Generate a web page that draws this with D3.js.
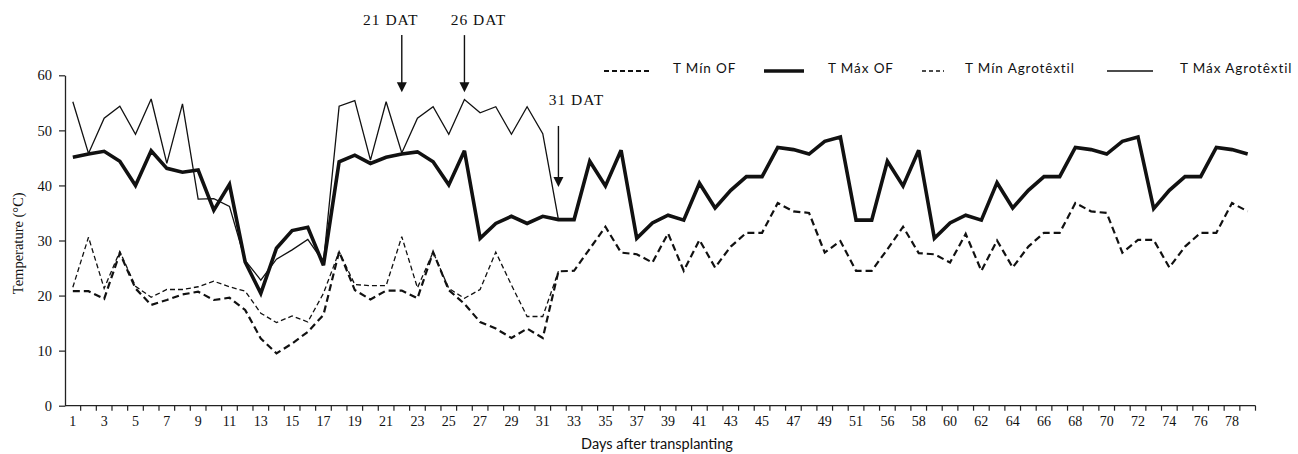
<!DOCTYPE html>
<html>
<head>
<meta charset="utf-8">
<script src="https://cdn.jsdelivr.net/npm/d3@7"></script>
<style>
  html, body { margin: 0; padding: 0; background: #fff; }
  svg { display: block; }
</style>
</head>
<body>
<svg id="chart" width="1298" height="454"></svg>
<script>
// Days after transplanting (category axis; days 52-54 were not recorded)
const days = [
  1,2,3,4,5,6,7,8,9,10,11,12,13,14,15,16,17,18,19,20,21,22,23,24,25,26,27,28,29,30,
  31,32,33,34,35,36,37,38,39,40,41,42,43,44,45,46,47,48,49,50,51,
  55,56,57,58,59,60,61,62,63,64,65,66,67,68,69,70,71,72,73,74,75,76,77,78,79
].map(String);

// Open field minimum and maximum temperature (°C)
const tMinOF = [
  20.8,20.8,19.4,27.7,21.3,18.3,19.2,20.2,20.7,19.2,19.6,17.4,12.2,9.5,11.3,13.4,16.5,28.0,21.0,19.3,
  20.9,20.9,19.5,27.9,21.0,18.5,15.2,14.0,12.3,14.0,12.3,24.4,24.5,28.5,32.5,27.8,27.5,26.0,31.3,24.5,
  30.1,25.1,28.9,31.4,31.4,36.8,35.3,35.0,27.8,29.9,24.5,24.5,28.4,32.5,27.7,27.5,26.0,31.2,24.5,30.0,
  25.1,28.9,31.4,31.4,36.8,35.3,35.0,27.8,30.1,30.1,25.1,28.9,31.4,31.4,36.8,35.3
];
const tMaxOF = [
  45.1,45.7,46.2,44.4,40.0,46.3,43.1,42.4,42.8,35.5,40.2,26.1,20.4,28.6,31.8,32.4,25.5,44.3,45.5,44.0,
  45.1,45.7,46.1,44.3,40.1,46.3,30.4,33.1,34.4,33.1,34.4,33.8,33.8,44.4,39.9,46.4,30.4,33.2,34.6,33.7,
  40.4,35.9,39.1,41.6,41.6,46.9,46.5,45.7,48.0,48.8,33.7,33.7,44.4,39.9,46.4,30.4,33.2,34.6,33.7,40.5,
  35.9,39.1,41.6,41.6,46.9,46.5,45.7,48.0,48.8,35.8,39.1,41.6,41.6,46.9,46.5,45.7
];

// Under the agrotextile cover (until it was removed)
const tMinAgro = [
  21.5,30.6,21.3,28.0,21.7,19.7,21.1,21.1,21.6,22.6,21.6,20.8,16.8,15.1,16.3,15.2,20.4,28.0,22.0,21.8,
  21.8,30.7,21.4,27.9,21.3,19.5,21.1,27.9,21.9,16.2,16.2,24.4
];
const tMaxAgro = [
  55.2,45.8,52.2,54.4,49.3,55.7,44.0,54.8,37.5,37.6,36.2,26.4,22.8,26.6,28.3,30.2,26.1,54.4,55.4,44.6,
  55.2,45.9,52.2,54.3,49.3,55.6,53.2,54.3,49.3,54.3,49.4,33.8
];

const yTicks = [0, 10, 20, 30, 40, 50, 60];

// Arrow annotations: text, category the arrow points at, arrow top and tip (°C)
const notes = [
  { text: "21 DAT", day: "22", from: 67.3, to: 56.9 },
  { text: "26 DAT", day: "26", from: 67.3, to: 56.9 },
  { text: "31 DAT", day: "32", from: 50.8, to: 39.7 }
];

const series = [
  { name: "T Mín OF",          values: tMinOF,   width: 2.2, dash: "7,4" },
  { name: "T Máx OF",          values: tMaxOF,   width: 3.6, dash: null  },
  { name: "T Mín Agrotêxtil",  values: tMinAgro, width: 1.3, dash: "5,3" },
  { name: "T Máx Agrotêxtil",  values: tMaxAgro, width: 1.3, dash: null  }
];

const svg = d3.select("#chart");
const serif = "'Liberation Serif', 'Times New Roman', serif";
const sans = "Lato, 'Open Sans', sans-serif";

const x = d3.scaleBand().domain(days).range([65, 1255.5]).paddingInner(0).paddingOuter(0);
const y = d3.scaleLinear().domain([0, 60]).range([405.7, 75.3]);
const cx = d => x(d) + x.bandwidth() / 2;

// Y axis
const yAxis = svg.append("g")
  .attr("transform", `translate(${x.range()[0]},0)`)
  .call(d3.axisLeft(y).tickValues(yTicks).tickSize(6).tickPadding(7).tickSizeOuter(0));
yAxis.select(".domain").attr("stroke", "#222").attr("stroke-width", 1.3);
yAxis.selectAll(".tick line").attr("stroke", "#222").attr("stroke-width", 1.2);
yAxis.selectAll(".tick text").attr("font-family", serif).attr("font-size", 14.5).attr("fill", "#111");

// X axis: labels on every second day, tick marks between categories
const xAxis = svg.append("g")
  .attr("transform", `translate(0,${y(0)})`)
  .call(d3.axisBottom(x).tickValues(days.filter((d, i) => i % 2 === 0)).tickSize(0).tickPadding(10));
xAxis.select(".domain").remove();
xAxis.selectAll(".tick text").attr("font-family", serif).attr("font-size", 14).attr("fill", "#111");

svg.append("line")
  .attr("x1", x.range()[0]).attr("x2", x.range()[1])
  .attr("y1", y(0)).attr("y2", y(0))
  .attr("stroke", "#222").attr("stroke-width", 1.3);

const boundaries = days.map(d => x(d)).concat([x.range()[1]]).slice(1);
svg.append("g").selectAll("line").data(boundaries).join("line")
  .attr("x1", d => d).attr("x2", d => d)
  .attr("y1", y(0)).attr("y2", y(0) + 5)
  .attr("stroke", "#222").attr("stroke-width", 1.2);

// Axis titles
svg.append("text")
  .attr("x", 657).attr("y", 449)
  .attr("text-anchor", "middle")
  .attr("font-family", sans).attr("font-size", 14.5)
  .attr("fill", "#111")
  .text("Days after transplanting");

svg.append("text")
  .attr("transform", `translate(23,${y(29.5)}) rotate(-90)`)
  .attr("text-anchor", "middle")
  .attr("font-family", serif).attr("font-size", 14.5)
  .attr("fill", "#111")
  .text("Temperature (°C)");

// Temperature lines
const line = d3.line().x((v, i) => cx(days[i])).y(v => y(v));
svg.append("g").selectAll("path").data(series).join("path")
  .attr("d", s => line(s.values))
  .attr("fill", "none")
  .attr("stroke", "#111")
  .attr("stroke-width", s => s.width)
  .attr("stroke-dasharray", s => s.dash)
  .attr("stroke-linejoin", "miter")
  .attr("stroke-miterlimit", 3);

// Legend
const legendLayout = [
  { x1: 604, x2: 652, tx: 673 },
  { x1: 764, x2: 804, tx: 828 },
  { x1: 922, x2: 944, tx: 965 },
  { x1: 1107, x2: 1153, tx: 1180 }
];
const legend = svg.append("g");
series.forEach((s, i) => {
  const L = legendLayout[i];
  legend.append("line")
    .attr("x1", L.x1).attr("x2", L.x2).attr("y1", 71).attr("y2", 71)
    .attr("stroke", "#111").attr("stroke-width", s.width)
    .attr("stroke-dasharray", s.dash ? (i === 0 ? "5,3" : "4,3") : null);
  legend.append("text")
    .attr("x", L.tx).attr("y", 73)
    .attr("font-family", sans).attr("font-size", 13.5).attr("letter-spacing", 0.9)
    .attr("fill", "#111")
    .text(s.name);
});

// Arrow annotations
const textOffset = [-11, 14, 18];
const textY = [20, 20, 100];
notes.forEach((n, i) => {
  const ax = cx(n.day);
  const y0 = y(n.from), y1 = y(n.to);
  svg.append("line")
    .attr("x1", ax).attr("x2", ax).attr("y1", y0).attr("y2", y1 - 9)
    .attr("stroke", "#111").attr("stroke-width", 1.4);
  svg.append("path")
    .attr("d", `M${ax - 5},${y1 - 10} L${ax + 5},${y1 - 10} L${ax},${y1} Z`)
    .attr("fill", "#111");
  svg.append("text")
    .attr("x", ax + textOffset[i]).attr("y", textY[i] + 5)
    .attr("text-anchor", "middle")
    .attr("font-family", serif).attr("font-size", 15.5).attr("letter-spacing", 1)
    .attr("fill", "#111")
    .text(n.text);
});
</script>
</body>
</html>
